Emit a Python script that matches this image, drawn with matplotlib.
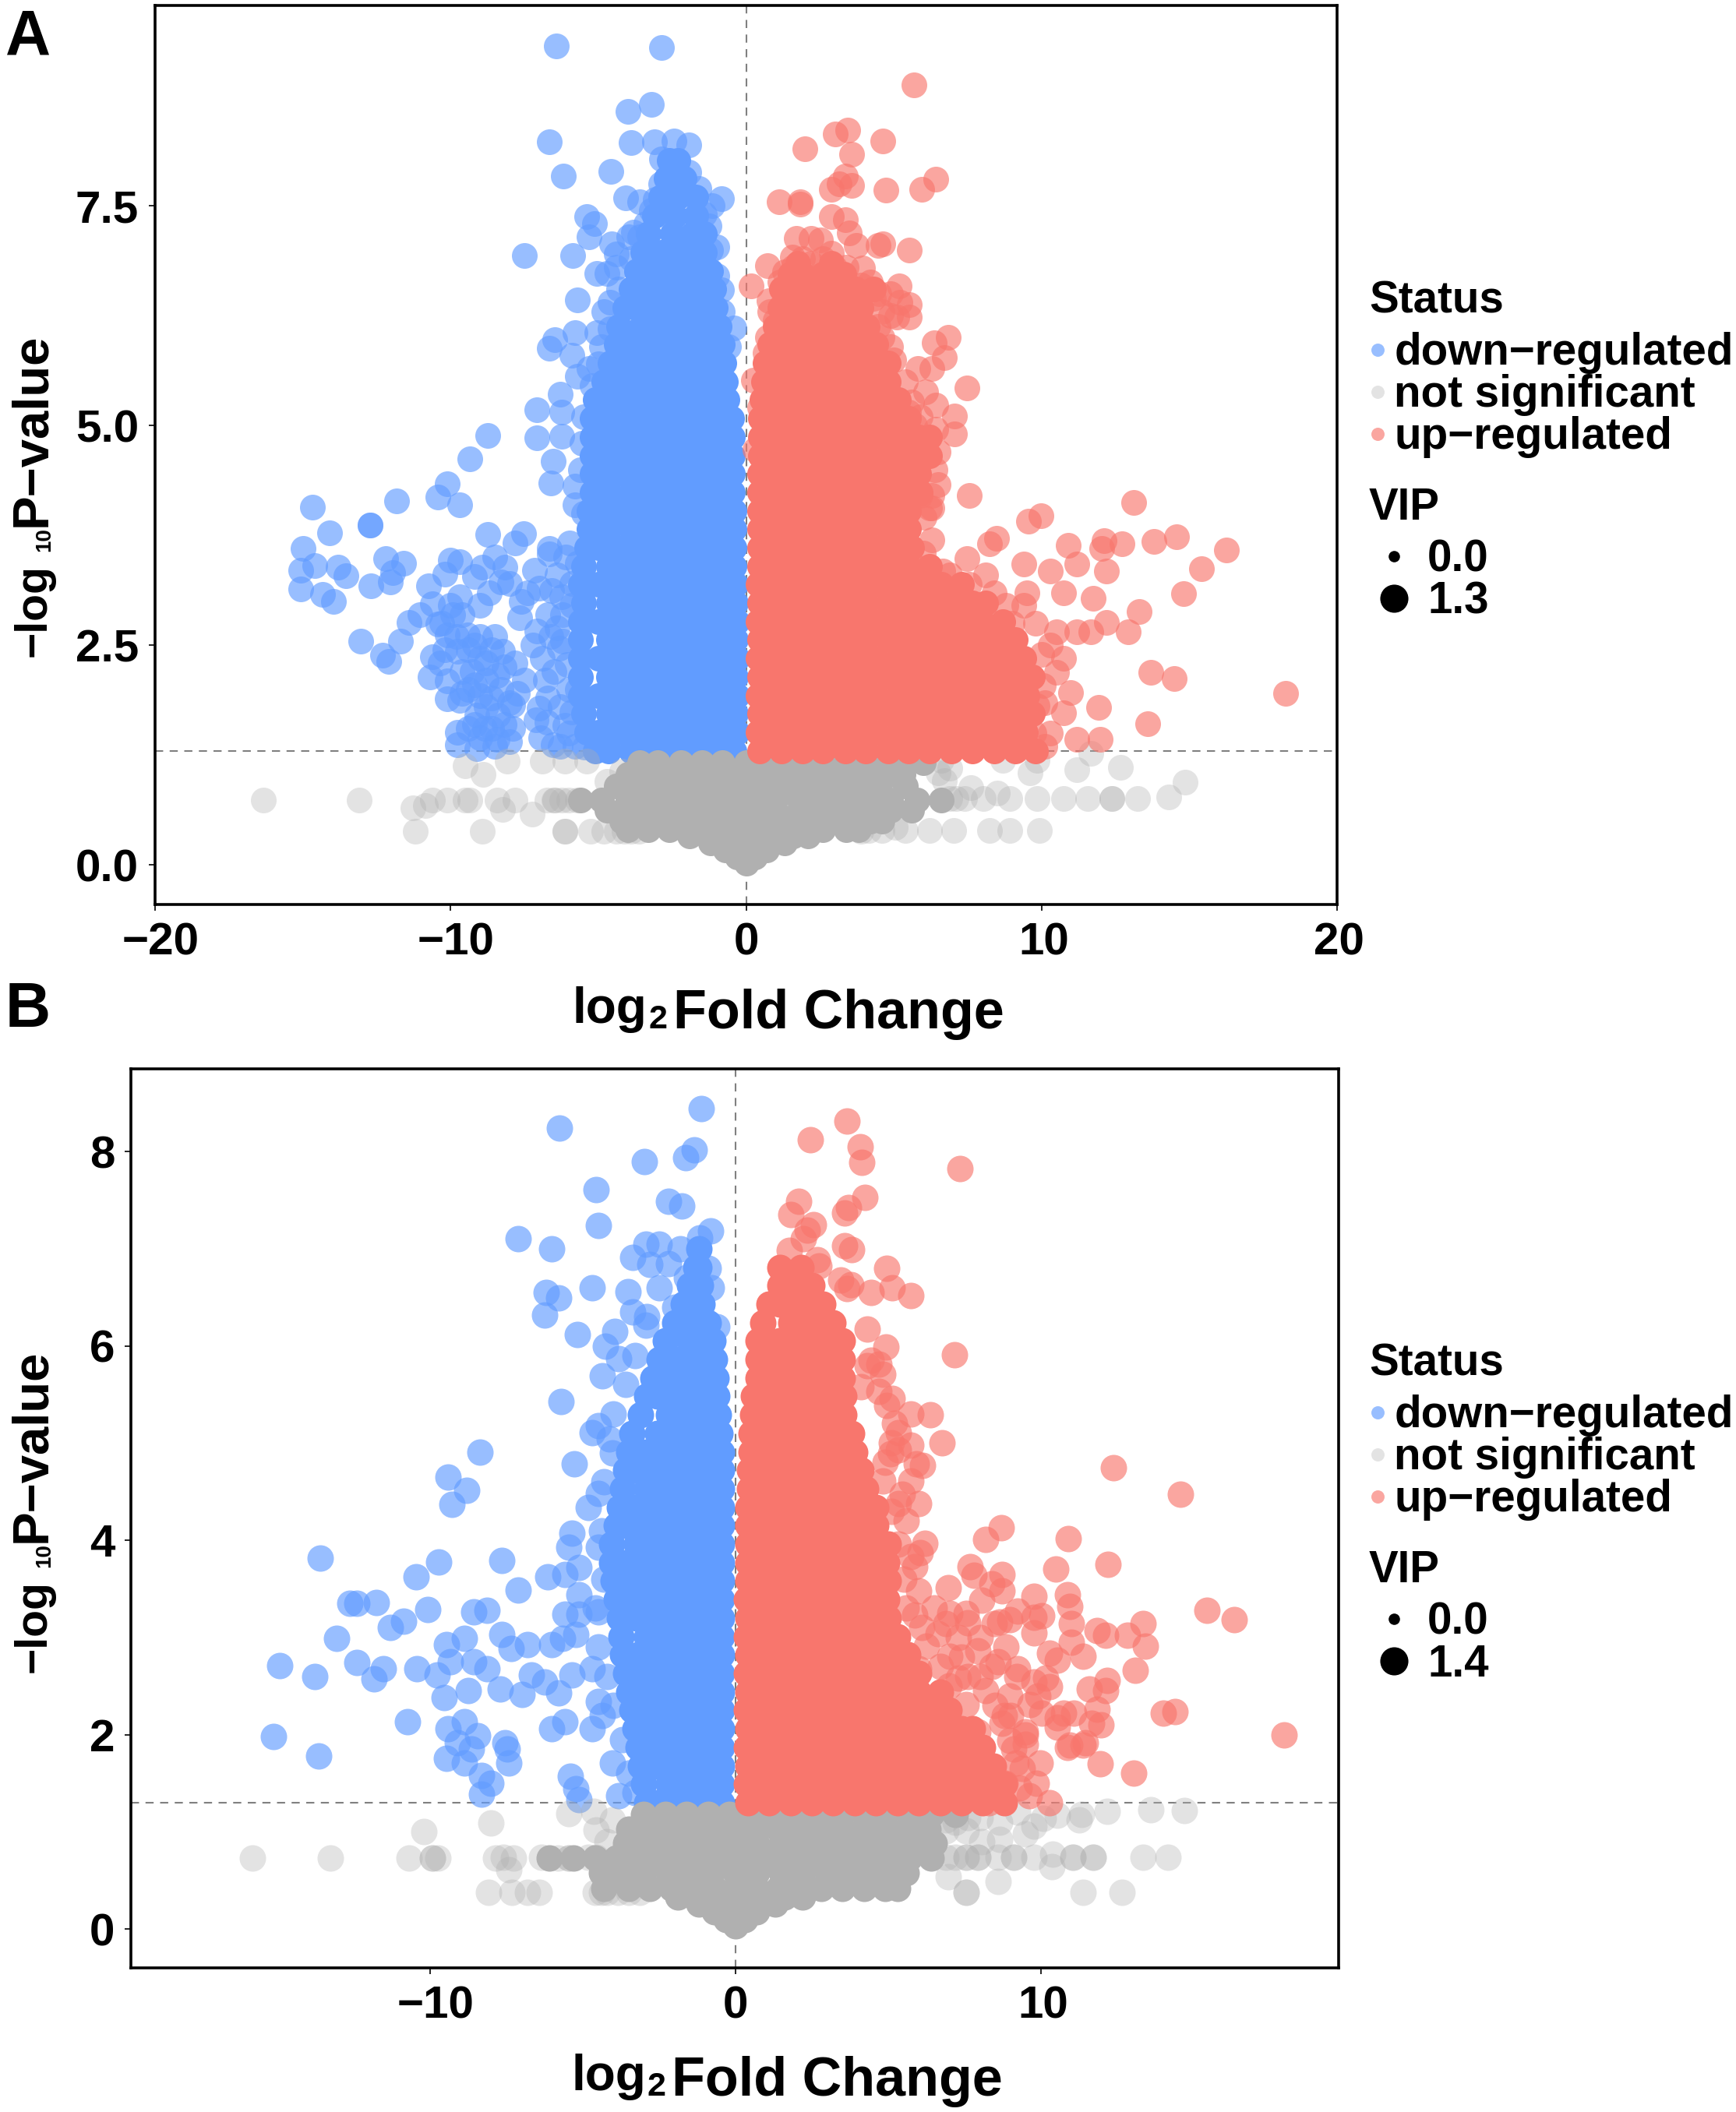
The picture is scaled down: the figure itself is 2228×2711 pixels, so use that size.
import numpy as np
import matplotlib
matplotlib.use("Agg")
import matplotlib.pyplot as plt
from matplotlib.lines import Line2D
from matplotlib.transforms import ScaledTranslation

plt.rcParams['font.family'] = ['Liberation Sans', 'DejaVu Sans']
plt.rcParams['font.weight'] = 'bold'

status_labels = ['down\u2212regulated', 'not significant', 'up\u2212regulated']
status_colors = ['#619cff', '#b0b0b0', '#f8766d']
vip_labels_a = ['0.0', '1.3']
vip_labels_b = ['0.0', '1.4']
xticks_a = [-20, -10, 0, 10, 20]
yticks_a = [0.0, 2.5, 5.0, 7.5]
xticks_b = [-10, 0, 10]
yticks_b = [0, 2, 4, 6, 8]

# panel A, single points that can still be told apart
a_down = [(-6.43,9.32),(-2.86,9.3),(-3.2,8.65),(-4.0,8.57),(-6.67,8.23),(-3.9,8.22),(-3.11,8.23),(-2.44,8.24),
 (-6.18,7.84),(-4.58,7.89),(-4.07,7.59),(-3.6,7.55),(-0.84,7.58),(-3.06,7.57),(-1.94,8.19),(-2.86,8.03),(-1.94,7.88),
 (-5.39,7.38),(-5.13,7.3),(-5.3,7.15),(-7.5,6.93),(-5.86,6.93),(-3.96,7.15),(-4.55,7.07),(-5.05,6.73),(-4.7,6.73),
 (-5.72,6.43),(-4.8,6.3),(-6.48,5.98),(-6.65,5.88),(-5.8,6.06),(-5.05,6.06),(-5.9,5.8),(-5.72,5.56),(-5.3,5.65),
 (-6.3,5.36),(-7.07,5.18),(-6.23,5.15),(-7.07,4.86),(-6.23,4.88),(-6.53,4.59),(-6.6,4.35),(-8.75,4.89),(-9.34,4.62),
 (-10.1,4.34),(-10.44,4.19),(-9.68,4.1),(-11.83,4.14),(-14.68,4.07),(-5.8,4.1),(-5.8,4.31),(-0.42,6.11),(-0.84,6.54),
 (-1.0,7.03),(-1.26,7.27),(-14.1,3.78),(-12.71,3.87),(-12.71,3.87),(-8.75,3.76),(-7.54,3.77),(-7.83,3.66),(-6.65,3.6),
 (-14.98,3.6),(-14.6,3.41),(-15.07,3.35),(-13.8,3.39),(-13.55,3.29),(-12.2,3.49),(-11.6,3.43),(-11.95,3.33),(-12.03,3.22),
 (-12.7,3.18),(-15.07,3.14),(-14.34,3.08),(-13.97,3.0),(-10.0,3.47),(-9.68,3.45),(-10.2,3.31),(-9.18,3.28),(-8.92,3.39),
 (-8.16,3.39),(-8.5,3.5),(-8.3,3.22),(-7.16,3.35),(-6.65,3.54),(-5.72,3.43),(-5.98,3.66),(-10.74,3.18),(-9.68,3.05),
 (-9.0,2.95),(-10.6,2.97),(-7.6,3.0),(-7.66,2.81),(-6.57,3.12),(-6.23,3.05),(-9.93,2.85),(-11.4,2.76),(-11.03,2.85),
 (-10.44,2.74),(-13.05,2.55),(-11.7,2.55),(-12.3,2.39),(-12.1,2.32),(-10.1,2.62),(-9.43,2.62),(-8.5,2.6),(-7.07,2.66),
 (-6.4,2.7),(-10.6,2.37),(-9.76,2.43),(-9.0,2.35),(-8.25,2.43),(-7.83,2.3),(-6.9,2.35),(-6.31,2.47),(-6.06,2.28),
 (-10.7,2.14),(-10.1,2.09),(-9.26,2.2),(-8.42,2.16),(-10.1,1.89),(-9.68,1.87),(-9.0,1.93),(-7.74,1.95),(-7.9,1.82),
 (-7.0,1.78),(-6.73,1.62),(-6.14,1.59),(-9.1,1.7),(-8.4,1.7),(-9.76,1.51),(-9.76,1.37),(-9.1,1.32),(-8.42,1.43),
 (-7.9,1.55),(-8.84,1.55),(-6.53,1.37),(-5.9,1.74),(-5.72,2.0),(-5.47,1.34),(-5.56,2.74),(-9.2,2.5),(-8.8,2.1),(-9.4,2.0),(-8.6,1.9),
 (-10.2,2.45),(-9.8,2.6),(-9.4,2.45),(-9,2.6),(-8.6,2.45),(-8.2,2.25),(-9.6,2.2),(-9.2,2.05),(-8.8,2.3),(-8.3,2.0),(-8,1.85),
 (-8.2,1.6),(-8.6,1.55),(-9,1.45),(-9.4,1.55),(-8.8,1.8),(-9.2,1.6),(-8.0,1.4),(-8.5,1.35),(-7.5,2.1),(-7.2,2.5),(-6.8,2.1),
 (-6.5,2.2),(-6.7,1.9),(-6.3,1.8),(-6.2,2.55),(-6.0,2.0),(-6,1.5),(-5.8,1.35),(-6.3,1.35),(-6.6,2.6),(-6.2,2.85),(-6.7,2.85),
 (-5.9,3.2),(-6.4,3.3),(-5.9,2.95),(-6.1,3.5),(-7.1,1.65),(-6.95,1.45),(-10.3,2.75),(-10.0,2.95),(-9.6,2.85),(-10.35,2.3),
 (-9.6,1.95),(-7.4,3.1),(-8.7,3.1),(-8.0,3.2),(-7.0,3.15),(-5.5,4.0),(-5.6,4.5),(-5.55,4.8),(-5.5,5.1),(-5.2,5.45),(-5,5.7),
 (-4.9,5.9),(-4.6,6.1),(-4.6,6.4),(-4.3,6.55),(-4.4,6.8),(-3.9,6.9),(-3.6,7.15),(-3.4,7.3),(-3.2,7.45),(-4.4,6.95),(-3.8,7.2),
 (-.6,5.9),(-.8,6.3),(-1.0,6.7),(-1.2,7.0),(-1.4,7.4),(-1.15,7.5),(-2.9,7.75),(-1.6,7.7)]
a_up = [(5.68,8.88),(3.02,8.32),(3.44,8.36),(4.62,8.24),(1.98,8.15),(3.58,8.09),(3.37,7.84),(3.16,7.75),(2.88,7.69),
 (3.58,7.73),(4.74,7.68),(5.95,7.69),(6.43,7.8),(1.11,7.55),(1.84,7.52),(1.84,7.55),(2.88,7.38),(3.37,7.34),(1.7,7.13),
 (2.19,7.13),(3.5,7.19),(2.53,7.11),(3.72,7.05),(4.48,7.05),(4.62,7.07),(5.53,7.0),(0.72,6.82),(1.56,6.92),(2.88,6.96),
 (3.93,6.79),(0.17,6.59),(1.14,6.63),(0.79,6.42),(4.2,6.63),(5.18,6.59),(5.53,6.38),(5.11,6.23),(5.53,6.23),(4.48,6.13),
 (6.85,6.0),(6.36,5.94),(6.71,5.77),(0.72,6.0),(0.65,5.83),(5.81,5.65),(6.3,5.65),(0.24,5.52),(7.48,5.43),(6.09,5.38),
 (5.6,5.27),(6.43,5.23),(7.06,5.11),(0.45,5.21),(7.06,4.9),(6.43,4.96),(0.31,4.73),(6.5,4.33),(7.55,4.2),(13.12,4.12),
 (9.99,3.97),(9.57,3.91),(14.58,3.73),(6.3,4.06),(6.02,3.96),(16.26,3.58),(13.8,3.68),(15.4,3.37),(14.8,3.09),(13.7,2.19),
 (14.49,2.12),(18.27,1.95),(13.58,1.61),(11.94,1.79),(11.98,1.43),(13.3,2.88),(12.94,2.65),(12.2,2.76),(12.71,3.65),
 (12.12,3.69),(12.03,3.6),(10.89,3.64),(12.2,3.34),(11.2,3.42),(10.3,3.34),(11.75,3.03),(10.75,3.1),(9.39,3.42),(8.47,3.72),
 (8.25,3.65),(7.47,3.49),(6.65,3.34),(7.56,3.19),(11.2,2.65),(10.52,2.65),(11.66,2.65),(10.75,2.35),(10.98,1.96),
 (10.75,1.73),(10.3,1.5),(11.2,1.43),(10.07,2.04),(10.3,2.5),(10.52,2.19),(9.84,1.81),(9.75,1.5),(8.56,1.46),(6.2,4.06),
 (4.5,6.5),(4.9,6.5),(5.2,6.4),(4.6,6.3),(4.9,6.25),(4.3,6.45),(3.9,6.6),(1.3,6.75),(1.6,6.8),(1.9,6.9),(2.2,6.85),(2.6,6.9),
 (3.0,6.8),(3.4,6.8),(1,6.2),(.8,6.3),(4.6,6.0),(4.9,5.9),(5,5.75),(5.4,5.5),(5.5,5.15),(5.7,5),(5.9,5.1),(6.5,4.7),(6.4,4.5),
 (6.3,4.2),(5.9,4.2),(6.3,3.7),(6,3.55),(5.7,3.4),(6.9,3.3),(7.3,3.05),(7.8,2.9),(8.4,3.1),(8.8,2.95),(9,2.75),(9.4,2.95),
 (9.8,2.75),(10,2.4),(10.1,1.85),(10.1,1.35),(8.1,3.3),(9.5,3.1)]
a_ns = [(-11.18,0.38),(-8.92,0.38),(-6.14,0.38),(-6.14,0.38),(-5.27,0.38),(-4.12,0.38),(-3.62,0.38),(-16.33,0.74),(-13.1,0.74),
 (-10.86,0.68),(-10.6,0.74),(-10.1,0.74),(-9.5,0.74),(-9.34,0.74),(-8.42,0.74),(-7.83,0.74),(-8.25,0.63),(-6.73,0.74),
 (-6.48,0.74),(-6.23,0.74),(-5.72,0.74),(-11.28,0.65),(-7.24,0.58),(-9.51,1.13),(-8.89,1.03),(-8.08,1.18),(-6.9,1.18),
 (-6.14,1.18),(-4.7,0.95),(-4.2,1.07),(-5.39,1.18),(13.26,0.76),(12.39,0.76),(12.39,0.76),(11.57,0.76),(10.75,0.76),
 (9.84,0.76),(8.93,0.76),(8.02,0.76),(7.1,0.76),(14.3,0.77),(14.85,0.94),(9.93,0.39),(8.93,0.39),(8.25,0.39),(7.02,0.39),
 (6.2,0.39),(5.06,0.43),(4.15,0.39),(12.67,1.11),(11.2,1.08),(11.66,1.27),(9.84,1.19),(8.7,1.19),(6.6,1.19),(9.6,1.05),
 (8.5,0.82),(7.6,0.88),(6.7,0.96),(-4.4,0.38),(-4.8,0.38),(-3.9,0.38),(4.6,0.39),(3.9,0.38),(5.4,0.39),(-6.5,0.74),(-6,0.74),
 (7.4,0.76),(6.9,0.76),(6.5,1.05),(6.9,1.1)]

# panel A, saturated part of each cloud, read row by row (y: x positions)
a_down_core = {
 1.30:[-5.1,-4.65,-3.9,-3.2,-2.5,-1.8,-1.05,-.4], 1.51:[-5.4,-5,-4.3,-3.55,-2.85,-2.15,-1.4,-.7,-.3],
 1.72:[-5.5,-4.65,-3.9,-3.2,-2.5,-1.8,-1.05,-.35], 1.93:[-5.6,-5,-4.3,-3.55,-2.85,-2.15,-1.4,-.7,-.3],
 2.14:[-5.6,-4.65,-3.9,-3.2,-2.5,-1.8,-1.05,-.35], 2.35:[-5.6,-5,-4.3,-3.55,-2.85,-2.15,-1.4,-.7,-.3],
 2.56:[-5.6,-4.65,-3.9,-3.2,-2.5,-1.8,-1.05,-.35], 2.77:[-5.6,-5,-4.3,-3.55,-2.85,-2.15,-1.4,-.7,-.3],
 2.98:[-5.5,-4.65,-3.9,-3.2,-2.5,-1.8,-1.05,-.35], 3.19:[-5.6,-5,-4.3,-3.55,-2.85,-2.15,-1.4,-.7,-.35],
 3.40:[-5.5,-4.65,-3.9,-3.2,-2.5,-1.8,-1.05,-.4], 3.61:[-5.4,-5,-4.3,-3.55,-2.85,-2.15,-1.4,-.7,-.4],
 3.82:[-5.3,-4.65,-3.9,-3.2,-2.5,-1.8,-1.05,-.4], 4.03:[-5.3,-5,-4.3,-3.55,-2.85,-2.15,-1.4,-.7,-.4],
 4.24:[-5.2,-4.65,-3.9,-3.2,-2.5,-1.8,-1.05,-.45], 4.45:[-5.2,-4.9,-4.3,-3.55,-2.85,-2.15,-1.4,-.7,-.45],
 4.66:[-5.2,-4.65,-3.9,-3.2,-2.5,-1.8,-1.05,-.45], 4.87:[-5.2,-4.9,-4.3,-3.55,-2.85,-2.15,-1.4,-.7,-.45],
 5.08:[-5.2,-4.65,-3.9,-3.2,-2.5,-1.8,-1.05,-.5], 5.29:[-5.1,-4.7,-4.3,-3.55,-2.85,-2.15,-1.4,-.65],
 5.50:[-4.8,-4.4,-3.9,-3.2,-2.5,-1.8,-1.05,-.7], 5.71:[-4.6,-4.1,-3.55,-2.85,-2.15,-1.4,-.75],
 5.92:[-4.4,-3.9,-3.2,-2.5,-1.8,-1.05,-.8], 6.13:[-4.3,-3.55,-2.85,-2.15,-1.4,-.9],
 6.34:[-4.1,-3.7,-3.2,-2.5,-1.8,-1.05], 6.55:[-3.9,-3.55,-2.85,-2.15,-1.4,-1.1],
 6.76:[-3.7,-3.2,-2.5,-1.8,-1.2], 6.97:[-3.5,-2.85,-2.15,-1.4], 7.18:[-3.3,-2.5,-1.8,-1.4],
 7.39:[-3.1,-2.4,-1.7], 7.60:[-2.9,-2.3,-1.7], 7.81:[-2.7,-2.1], 8.02:[-2.6,-2.3]}
a_up_core = {
 1.30:[.45,1.2,1.9,2.6,3.35,4.05,4.8,5.5,6.2,6.95,7.65,8.4,9.1,9.8], 1.51:[.4,.8,1.55,2.25,3,3.7,4.4,5.15,5.85,6.6,7.3,8,8.75,9.45],
 1.72:[.45,1.2,1.9,2.6,3.35,4.05,4.8,5.5,6.2,6.95,7.65,8.4,9.1,9.7], 1.93:[.4,.8,1.55,2.25,3,3.7,4.4,5.15,5.85,6.6,7.3,8,8.75,9.5],
 2.14:[.45,1.2,1.9,2.6,3.35,4.05,4.8,5.5,6.2,6.95,7.65,8.4,9.1,9.7], 2.35:[.4,.8,1.55,2.25,3,3.7,4.4,5.15,5.85,6.6,7.3,8,8.75,9.4],
 2.56:[.45,1.2,1.9,2.6,3.35,4.05,4.8,5.5,6.2,6.95,7.65,8.4,9.1], 2.77:[.4,.8,1.55,2.25,3,3.7,4.4,5.15,5.85,6.6,7.3,8,8.7],
 2.98:[.45,1.2,1.9,2.6,3.35,4.05,4.8,5.5,6.2,6.95,7.65,8.1], 3.19:[.4,.8,1.55,2.25,3,3.7,4.4,5.15,5.85,6.6,7.3],
 3.40:[.45,1.2,1.9,2.6,3.35,4.05,4.8,5.5,6.2], 3.61:[.45,.8,1.55,2.25,3,3.7,4.4,5.15,5.6],
 3.82:[.45,1.2,1.9,2.6,3.35,4.05,4.8,5.5], 4.03:[.45,.8,1.55,2.25,3,3.7,4.4,5.15,5.5],
 4.24:[.45,1.2,1.9,2.6,3.35,4.05,4.8,5.5,5.9], 4.45:[.45,.8,1.55,2.25,3,3.7,4.4,5.15,5.85],
 4.66:[.5,1.2,1.9,2.6,3.35,4.05,4.8,5.5,6.2], 4.87:[.5,.8,1.55,2.25,3,3.7,4.4,5.15,5.85,6.2],
 5.08:[.5,1.2,1.9,2.6,3.35,4.05,4.8,5.5], 5.29:[.55,.8,1.55,2.25,3,3.7,4.4,5.15],
 5.50:[.6,1.2,1.9,2.6,3.35,4.05,4.8], 5.71:[.65,.8,1.55,2.25,3,3.7,4.4,4.8],
 5.92:[.8,1.2,1.9,2.6,3.35,4.05,4.4], 6.13:[1.0,1.55,2.25,3,3.7,4.1],
 6.34:[1.15,1.9,2.6,3.35,3.9], 6.55:[1.2,1.55,2.25,3,3.7,4.3],
 6.72:[1.5,1.9,2.6,3.3], 6.85:[1.75,2.9]}
a_ns_core = {
 0.02:[0], 0.09:[-.3,.3], 0.17:[-.7,0,.7], 0.25:[-1.2,-.5,.2,.8,1.3],
 0.33:[-1.9,-1.2,-.5,.2,.9,1.6,2.1],
 0.40:[-4,-3.3,-2.6,-1.8,-1.1,-.4,.3,1,1.8,2.6,3.4,3.8],
 0.50:[-4.2,-3.5,-2.8,-2.1,-1.4,-.7,0,.7,1.4,2.1,2.8,3.5,4.2,4.6],
 0.62:[-4.7,-4,-3.3,-2.6,-1.8,-1.1,-.4,.3,1,1.8,2.6,3.4,4.1,4.9,5.6],
 0.74:[-5.6,-4.9,-4,-3.3,-2.6,-1.8,-1.1,-.4,.3,1,1.8,2.6,3.4,4.1,4.9,5.8,6.6],
 0.90:[-4.4,-3.7,-3,-2.2,-1.5,-.8,0,.7,1.5,2.2,3,3.7,4.5,5.4],
 1.03:[-4,-3.3,-2.6,-1.8,-1.1,-.4,.3,1,1.8,2.6,3.4,4.1,4.9,5.3],
 1.16:[-3.6,-3,-2.2,-1.5,-.8,0,.7,1.5,2.2,3,3.7,4.5,5.2,6]}

# panel B
b_down = [(-5.76,8.24),(-1.13,8.44),(-1.35,8.02),(-1.62,7.94),(-2.98,7.9),(-4.57,7.61),(-4.48,7.24),(-2.19,7.49),(-1.75,7.44),
 (-7.12,7.1),(-6.02,7.0),(-2.94,7.05),(-2.5,7.05),(-3.38,6.91),(-2.8,6.84),(-0.82,7.18),(-1.18,7.11),(-6.2,6.55),(-4.7,6.6),
 (-6.24,6.32),(-5.8,6.49),(-3.51,6.56),(-3.38,6.35),(-2.94,6.21),(-5.18,6.12),(-3.95,6.15),(-4.26,6.0),(-3.82,5.87),(-4.35,5.69),
 (-5.71,5.43),(-4.48,5.18),(-4.13,5.04),(-4.7,5.11),(-5.27,4.79),(-4.04,4.9),(-8.36,4.91),(-9.41,4.65),(-8.8,4.51),(-9.28,4.37),
 (-4.48,4.48),(-4.83,4.34),(-5.36,4.07),(-5.45,3.93),(-5.14,3.72),(-4.48,3.93),(-13.6,3.82),(-9.72,3.78),(-7.65,3.79),(-6.15,3.62),
 (-5.58,3.65),(-10.47,3.62),(-7.12,3.49),(-5.14,3.44),(-12.63,3.35),(-12.4,3.35),(-11.75,3.36),(-10.87,3.17),(-10.07,3.29),
 (-11.31,3.1),(-8.58,3.26),(-8.14,3.28),(-13.07,2.99),(-5.14,3.24),(-4.48,3.26),(-5.58,3.24),(-5.23,3.03),(-5.67,2.99),(-7.65,3.03),
 (-8.88,2.99),(-9.46,2.93),(-6.81,2.93),(-6.02,2.93),(-12.41,2.74),(-11.53,2.68),(-11.84,2.57),(-14.92,2.71),(-13.78,2.6),
 (-10.43,2.68),(-9.77,2.61),(-9.33,2.75),(-8.58,2.75),(-7.34,2.89),(-8.14,2.68),(-6.68,2.61),(-6.24,2.54),(-5.36,2.61),(-5.8,2.43),
 (-4.7,2.68),(-8.75,2.45),(-7.7,2.47),(-6.99,2.41),(-10.74,2.13),(-9.55,2.38),(-4.48,2.34),(-15.14,1.98),(-13.64,1.78),(-9.41,2.06),
 (-8.88,2.13),(-8.44,1.99),(-9.1,1.92),(-8.66,1.85),(-9.46,1.76),(-7.56,1.92),(-7.47,1.85),(-6.02,2.06),(-5.58,2.13),(-4.7,2.06),
 (-8.88,1.71),(-8.31,1.58),(-8.0,1.5),(-8.31,1.39),(-7.43,1.71),(-5.4,1.57),(-5.23,1.44),(-5.14,1.33),(-3.82,1.37),(-4.04,1.71),(-4.35,2.2),
 (-4.6,3.3),(-4.3,3.6),(-4.5,2.9),(-4.2,2.6),(-4,2.3),(-3.7,1.95),(-3.5,1.6),(-3.3,1.4),(-4.4,4.1),(-4.3,4.6),(-4,5.3),(-3.6,5.6),
 (-3.3,5.9),(-2.9,6.3),(-2.5,6.6),(-2.2,6.85),(-1.8,7.0),(-1.6,6.7),(-2,6.4),(-.6,6.2),(-.8,6.6),(-.9,6.8)]
b_up = [(3.65,8.31),(2.44,8.12),(4.08,8.05),(4.14,7.89),(7.36,7.82),(4.23,7.53),(3.71,7.42),(3.58,7.37),(2.08,7.49),(1.82,7.35),
 (2.54,7.25),(2.34,7.19),(3.58,7.03),(3.8,6.99),(1.76,6.98),(2.67,6.89),(4.95,6.8),(3.45,6.68),(5.14,6.6),(4.43,6.55),(5.73,6.52),
 (3.65,6.59),(4.3,6.17),(4.92,5.99),(7.16,5.91),(4.69,5.81),(4.82,5.71),(5.14,5.46),(5.73,5.3),(6.38,5.29),(5.34,5.11),(6.75,5.0),
 (5.34,4.93),(5.73,4.98),(6.12,4.77),(5.93,4.79),(5.73,4.61),(5.99,4.38),(5.47,4.47),(12.37,4.75),(14.56,4.47),(8.69,4.13),
 (8.2,4.01),(10.9,4.02),(10.48,3.7),(12.2,3.75),(6.19,3.97),(6.05,3.87),(7.68,3.73),(7.81,3.64),(8.72,3.65),(6.97,3.51),(5.99,3.48),
 (8.4,3.55),(8.72,3.48),(9.77,3.42),(10.87,3.44),(10.94,3.32),(8.07,3.38),(7.03,3.25),(7.55,3.25),(15.43,3.28),(16.34,3.18),
 (13.35,3.14),(11.85,3.07),(12.11,3.02),(12.83,3.02),(13.41,2.91),(10.03,3.22),(9.77,3.21),(8.98,3.18),(8.66,3.16),(11.0,3.14),
 (11.0,2.95),(11.39,2.81),(10.55,2.77),(10.29,2.84),(9.24,3.27),(8.01,3.0),(7.29,3.0),(9.77,3.05),(13.09,2.66),(12.18,2.56),
 (11.59,2.47),(12.11,2.45),(14.0,2.22),(14.39,2.24),(17.97,2.0),(11.85,2.26),(10.55,2.17),(10.74,2.22),(11.65,2.12),(11.98,2.1),
 (11.39,1.89),(10.87,1.87),(10.55,2.08),(11.07,2.22),(10.16,2.58),(10.29,2.49),(9.9,2.4),(13.05,1.6),(11.95,1.7),(10.94,1.89),
 (11.47,1.92),(9.97,1.71),(9.18,1.71),(10.28,1.3),(9.62,1.37),(9.84,1.5),(8.82,1.5),(8.3,1.3),(8.07,1.58),(6.31,1.78),(6.97,1.92),
 (7.63,1.85),(6.75,1.65),(7.41,1.71),(5.87,1.58),(6.31,1.44),(7.63,1.37),(6.75,1.37),(8.4,2.7),(9.2,2.6),(7.6,2.6),(8.8,2.2),(9.5,2.0),
 (6.64,3.04),(7.03,2.81),(7.94,2.86),(8.46,3.14),(8.85,2.9),(9.24,2.68),(9.77,2.54),(6.9,3.14),(5.86,3.23),(6.25,2.91),(7.29,2.58),
 (8.2,2.45),(8.98,2.4),(9.64,2.31),(7.55,2.31),(6.64,2.4),(5.99,2.68),(5.86,2.22),(8.72,2.12),(9.5,2.03),(8.98,1.94),(7.94,2.03),
 (7.16,1.99),(6.38,2.12),(10.03,2.22),(4.95,5.39),(5.2,5.2),(4.69,5.53),(4.43,5.85),(3.78,6.63),(2.73,6.82),(2.21,7.1),(4.3,5.8),
 (4.1,5.58),(4.82,4.61),(5.08,4.89),(5.34,4.38),(5.73,3.83),(5.34,3.96),(5.86,3.73),(9.3,1.45),(9.4,1.65),(9.1,1.85),(9.5,1.9),
 (5.5,3.6),(5.6,3.3),(6.1,3.1),(6.5,3.3),(6.7,2.7),(7,2.5),(7.4,2.8),(8,2.6),(8.5,2.3),(9,2.2),(8.6,2.75),(7.6,3.15),(5.6,4.2),
 (5.1,5.0),(4.9,4.8),(5.1,4.3)]
b_ns = [(-15.83,0.73),(-13.26,0.73),(-10.68,0.73),(-9.93,0.73),(-9.93,0.73),(-9.75,0.73),(-7.87,0.73),(-7.6,0.74),(-7.28,0.73),
 (-6.35,0.74),(-5.81,0.73),(-5.46,0.73),(-5.46,0.73),(-4.83,0.74),(-4.56,0.74),(-7.42,0.61),(-10.2,1.0),(-8.0,1.09),(-5.46,1.19),
 (-4.65,1.21),(-4.56,1.02),(-4.03,1.12),(-4.2,0.9),(-8.09,0.38),(-7.33,0.38),(-6.8,0.38),(-6.44,0.38),(-4.2,0.38),(-3.85,0.38),
 (-3.49,0.38),(-3.13,0.38),(13.35,0.74),(14.15,0.74),(11.72,0.74),(11.72,0.74),(11.04,0.74),(11.04,0.74),(10.39,0.77),(10.35,0.64),
 (9.77,0.74),(9.11,0.74),(9.11,0.74),(8.6,0.74),(7.94,0.74),(7.94,0.74),(7.55,0.74),(7.55,0.74),(8.6,0.49),(7.55,0.38),(7.55,0.38),
 (6.97,0.54),(11.39,0.38),(12.66,0.38),(14.71,1.22),(13.6,1.23),(12.18,1.21),(11.33,1.18),(11.26,1.12),(10.55,1.17),(9.5,0.98),
 (9.77,1.06),(10.09,1.14),(8.66,1.1),(9.24,1.2),(8.66,0.92),(8.07,0.9),(7.55,1.01),(6.9,1.12),(6.9,1.01),(6.25,1.09),
 (-4.6,0.38),(-4.4,0.38),(6.9,0.74),(7.2,0.74),(7.2,1.1),(7.6,1.15),(8,1.15)]
b_down_core = {
 1.30:[-2.9,-2.55,-1.85,-1.15,-.45], 1.49:[-3,-2.2,-1.5,-.8,-.45], 1.68:[-3.1,-2.55,-1.85,-1.15,-.45],
 1.87:[-3.2,-2.9,-2.2,-1.5,-.8,-.45], 2.06:[-3.3,-2.55,-1.85,-1.15,-.45], 2.25:[-3.4,-2.9,-2.2,-1.5,-.8,-.45],
 2.44:[-3.5,-3.2,-2.55,-1.85,-1.15,-.45], 2.63:[-3.6,-2.9,-2.2,-1.5,-.8,-.45], 2.82:[-3.7,-3.2,-2.55,-1.85,-1.15,-.45],
 3.01:[-3.75,-2.9,-2.2,-1.5,-.8,-.45], 3.20:[-3.8,-3.25,-2.55,-1.85,-1.15,-.45], 3.39:[-3.9,-3.6,-2.9,-2.2,-1.5,-.8,-.45],
 3.58:[-4,-3.25,-2.55,-1.85,-1.15,-.45], 3.77:[-4.05,-3.6,-2.9,-2.2,-1.5,-.8,-.45], 3.96:[-4.05,-3.25,-2.55,-1.85,-1.15,-.45],
 4.15:[-3.9,-3.6,-2.9,-2.2,-1.5,-.8,-.45], 4.34:[-3.8,-3.25,-2.55,-1.85,-1.15,-.45], 4.53:[-3.7,-2.9,-2.2,-1.5,-.8,-.45],
 4.72:[-3.6,-3.25,-2.55,-1.85,-1.15,-.45], 4.91:[-3.5,-2.9,-2.2,-1.5,-.8,-.45], 5.10:[-3.4,-2.55,-1.85,-1.15,-.5],
 5.29:[-3.1,-2.2,-1.5,-.8,-.55], 5.48:[-2.9,-2.55,-1.85,-1.15,-.6], 5.67:[-2.7,-2.2,-1.5,-.8,-.65],
 5.86:[-2.5,-1.85,-1.15,-.7], 6.05:[-2.3,-1.5,-.75], 6.24:[-2,-1.6,-1.15,-.9], 6.43:[-1.7,-1.4,-1.1],
 6.62:[-1.5,-1.15], 6.81:[-1.3,-1.2], 7.00:[-1.2]}
b_up_core = {
 1.30:[.4,1.1,1.8,2.5,3.2,3.9,4.6,5.3,6,6.7,7.4,8.1,8.8], 1.49:[.35,.75,1.45,2.15,2.85,3.55,4.25,4.95,5.65,6.35,7.05,7.75,8.45,8.8],
 1.68:[.4,1.1,1.8,2.5,3.2,3.9,4.6,5.3,6,6.7,7.4,8.1,8.45], 1.87:[.35,.75,1.45,2.15,2.85,3.55,4.25,4.95,5.65,6.35,7.05,7.75,8.1],
 2.06:[.4,1.1,1.8,2.5,3.2,3.9,4.6,5.3,6,6.7,7.4,7.75], 2.25:[.35,.75,1.45,2.15,2.85,3.55,4.25,4.95,5.65,6.35,7],
 2.44:[.4,1.1,1.8,2.5,3.2,3.9,4.6,5.3,6,6.7], 2.63:[.35,.75,1.45,2.15,2.85,3.55,4.25,4.95,5.65,6],
 2.82:[.4,1.1,1.8,2.5,3.2,3.9,4.6,5.3,5.65], 3.01:[.35,.75,1.45,2.15,2.85,3.55,4.25,4.95,5.3],
 3.20:[.4,1.1,1.8,2.5,3.2,3.9,4.6,5], 3.39:[.35,.75,1.45,2.15,2.85,3.55,4.25,4.95],
 3.58:[.4,1.1,1.8,2.5,3.2,3.9,4.6,5], 3.77:[.4,.75,1.45,2.15,2.85,3.55,4.25,4.95],
 3.96:[.4,1.1,1.8,2.5,3.2,3.9,4.6,5], 4.15:[.4,.75,1.45,2.15,2.85,3.55,4.25,4.6],
 4.34:[.4,1.1,1.8,2.5,3.2,3.9,4.6], 4.53:[.45,.75,1.45,2.15,2.85,3.55,4.25],
 4.72:[.45,1.1,1.8,2.5,3.2,3.9,4.1], 4.91:[.5,.75,1.45,2.15,2.85,3.55,3.9],
 5.10:[.5,1.1,1.8,2.5,3.2,3.8], 5.29:[.55,.75,1.45,2.15,2.85,3.55],
 5.48:[.6,1.1,1.8,2.5,3.2,3.55], 5.67:[.75,1.45,2.15,2.85,3.5],
 5.86:[.75,1.1,1.8,2.5,3.2,3.5], 6.05:[.75,1.45,2.15,2.85,3.5],
 6.24:[.9,1.8,2.5,3.2], 6.43:[1.1,1.45,2.15,2.85], 6.62:[1.45,1.8,2.5], 6.81:[1.45,2.15]}
b_ns_core = {
 0.03:[0], 0.10:[-.3,.3], 0.18:[-.7,0,.7], 0.26:[-1.2,-.5,.2,.9,1.3],
 0.33:[-1.9,-1.2,-.5,.2,.9,1.6,2.2],
 0.42:[-4.3,-3.5,-2.8,-2.1,-1.4,-.7,0,.7,1.4,2.1,2.8,3.5,4.2,4.9,5.3],
 0.58:[-4.4,-3.7,-3,-2.2,-1.5,-.8,0,.7,1.5,2.2,3,3.7,4.4,5.1,5.6],
 0.73:[-6.1,-5.3,-4.6,-3.9,-3.1,-2.4,-1.6,-.9,-.2,.5,1.3,2,2.7,3.5,4.2,4.9,5.7,6.4],
 0.88:[-3.6,-2.9,-2.2,-1.5,-.8,0,.7,1.5,2.2,3,3.7,4.4,5.1,5.9,6.5],
 1.03:[-3.5,-2.8,-2.1,-1.4,-.7,0,.7,1.4,2.1,2.8,3.5,4.2,4.9,5.6,6.3],
 1.18:[-3,-2.3,-1.6,-.9,-.2,.5,1.3,2,2.7,3.5,4.2,4.9,5.7,6.4,7.2]}


def to_xy(rows):
    xs = [x for y in rows for x in rows[y]]
    ys = [y for y in rows for x in rows[y]]
    return xs, ys


W, H = 2228, 2711
fig = plt.figure(figsize=(W / 100, H / 100), dpi=100, facecolor='white')


def panel(left, top, right, bottom, xlim, ylim, xticks, yticks, yfmt, size, data):
    ax = fig.add_axes([left / W, 1 - bottom / H, (right - left) / W, (bottom - top) / H])
    ax.set_xlim(xlim)
    ax.set_ylim(ylim)
    ax.axvline(0, color='#808080', lw=1.5, ls=(0, (5, 4)), zorder=1)
    ax.axhline(1.3, color='#808080', lw=1.5, ls=(0, (5, 4)), zorder=1)
    for i, (pts, core) in enumerate(data):
        px, py = zip(*pts)
        al = 0.35 if i == 1 else 0.65
        ax.scatter(px, py, s=size, color=status_colors[i], alpha=al, linewidths=0, zorder=2 + i)
        cx, cy = to_xy(core)
        ax.scatter(cx, cy, s=size, color=status_colors[i], linewidths=0, zorder=2 + i)
    ax.set_xticks(xticks)
    ax.set_xticklabels([str(t).replace('-', '\u2212') for t in xticks])
    ax.set_yticks(yticks)
    ax.set_yticklabels([yfmt % t for t in yticks])
    ax.tick_params(axis='x', labelsize=42, length=6, width=1.2, pad=10)
    ax.tick_params(axis='y', labelsize=42, length=6, width=1.2, pad=9)
    # the x labels sit a little right of their ticks in the figure
    for t, lab in zip(xticks, ax.get_xticklabels()):
        shift = 5 / 72 if t < 0 else (2 / 72 if t > 0 else 0)
        lab.set_transform(lab.get_transform() + ScaledTranslation(shift, 0, fig.dpi_scale_trans))
    for s in ax.spines.values():
        s.set_linewidth(2.6)
    return ax


def put(x, y, s, size, **kw):
    fig.text(x / W, 1 - y / H, s, fontsize=size, fontweight='bold', **kw)


def legends(ax, y0, vip_labels):
    h1 = [Line2D([], [], ls='', marker='o', ms=12.2, mew=0, color=c, alpha=a)
          for c, a in zip(status_colors, [0.65, 0.35, 0.65])]
    leg1 = ax.legend(h1, status_labels, title='Status', loc='upper left',
                     bbox_to_anchor=(1757 / W, 1 - y0 / H), bbox_transform=fig.transFigure,
                     frameon=False, alignment='left', borderpad=0, borderaxespad=0,
                     prop={'weight': 'bold', 'size': 40.7}, title_fontproperties={'weight': 'bold', 'size': 40.7},
                     labelspacing=0.0, handlelength=0.4, handletextpad=0.17)
    leg1._legend_box.sep = 9
    ax.add_artist(leg1)
    h2 = [Line2D([], [], ls='', marker='o', ms=m, mew=0, color='black') for m in [10.5, 26]]
    leg2 = ax.legend(h2, vip_labels, title='VIP', loc='upper left',
                     bbox_to_anchor=(1757 / W, 1 - (y0 + 265) / H), bbox_transform=fig.transFigure,
                     frameon=False, alignment='left', borderpad=0, borderaxespad=0,
                     prop={'weight': 'bold', 'size': 40.7}, title_fontproperties={'weight': 'bold', 'size': 40.7},
                     labelspacing=0.0, handlelength=1.13, handletextpad=0.2)
    leg2._legend_box.sep = 9


ax_a = panel(199, 7, 1716, 1161, (-20, 20), (-0.45, 9.78), xticks_a, yticks_a, '%.1f', 565,
             [(a_down, a_down_core), (a_ns, a_ns_core), (a_up, a_up_core)])
ax_b = panel(168, 1372, 1718, 2526, (-19.8, 19.75), (-0.40, 8.85), xticks_b, yticks_b, '%d', 600,
             [(b_down, b_down_core), (b_ns, b_ns_core), (b_up, b_up_core)])
legends(ax_a, 360, vip_labels_a)
legends(ax_b, 1724, vip_labels_b)

put(7, 69, 'A', 58, va='baseline')
put(7, 1318, 'B', 58, va='baseline')

# axis labels are built in pieces, the subscripts are much smaller than the text
for dx, dy in [(0, 0), (-2, 1370)]:
    put(735 + dx, 1313 + dy, 'log', 46, va='baseline')
    put(832 + dx, 1320 + dy, '2', 31, va='baseline')
    put(864 + dx, 1320 + dy, 'Fold Change', 50.5, va='baseline')
for dy in [0, 1304]:
    put(71, 843 + dy, '\u2212log', 41, rotation=90, ha='right', va='bottom')
    put(70, 708 + dy, '10', 20, rotation=90, ha='right', va='bottom')
    put(71, 676 + dy, 'P\u2212value', 47, rotation=90, ha='right', va='bottom')

fig.savefig('out.png', dpi=100)
